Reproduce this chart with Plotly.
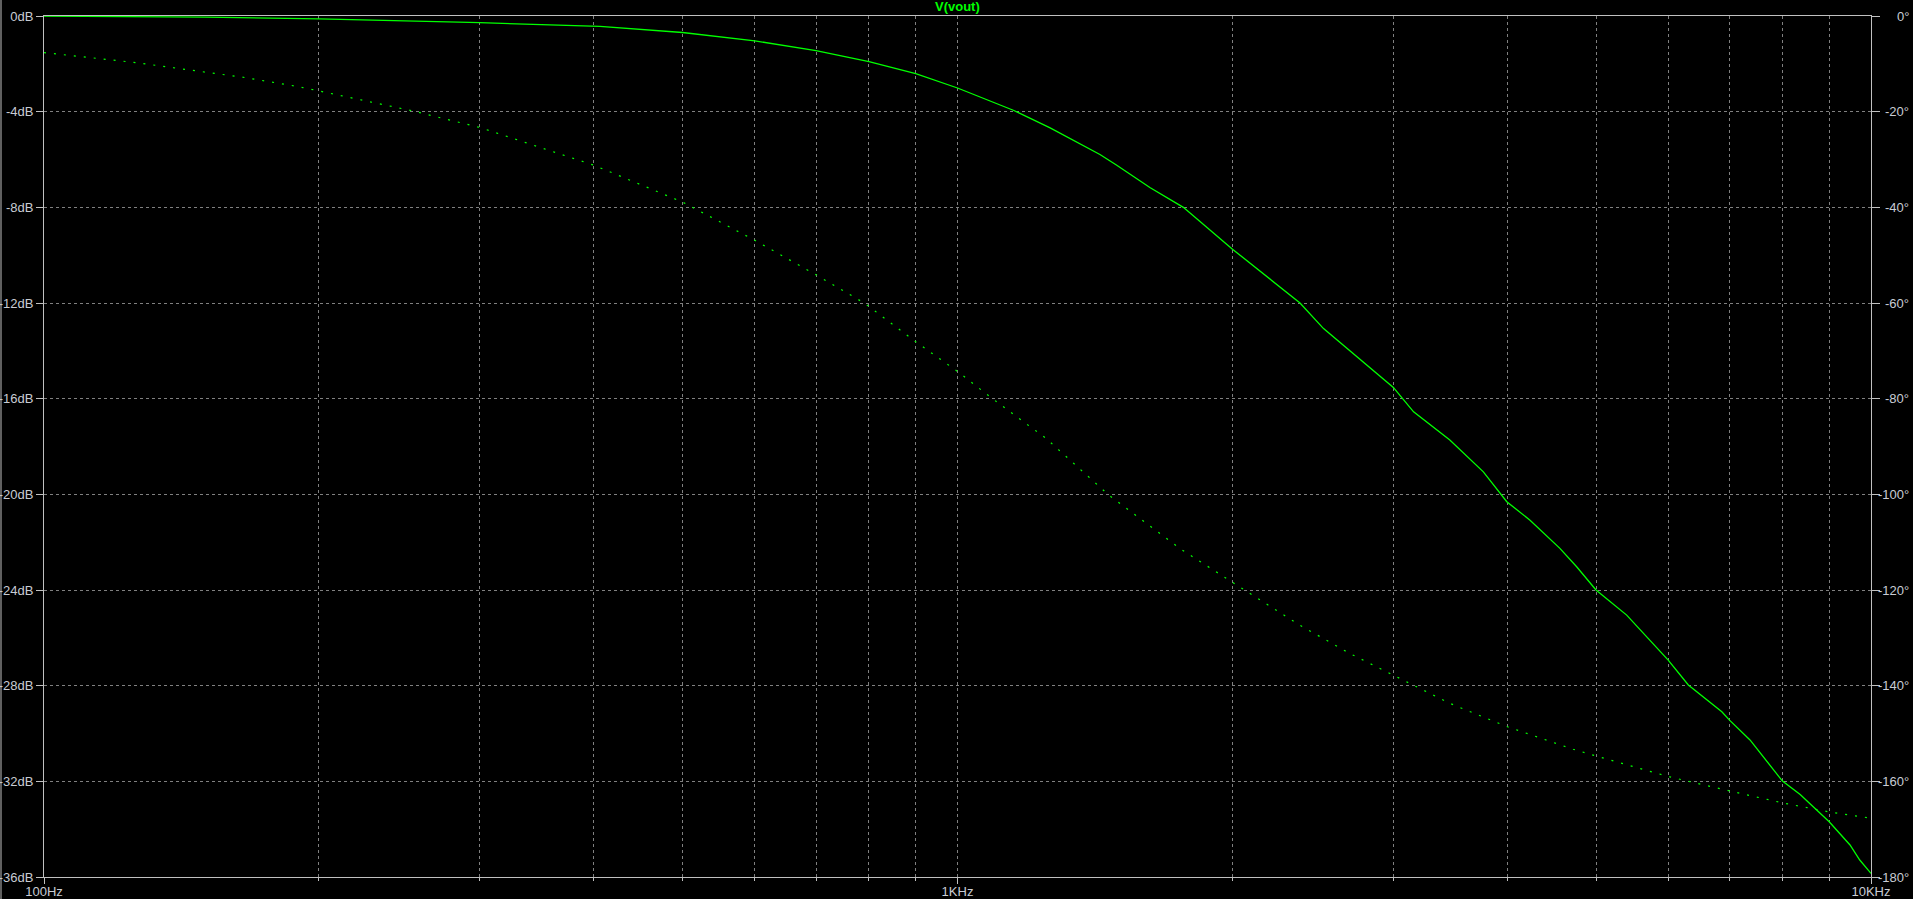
import plotly.graph_objects as go

# Magnitude (dB)
mag_freq = [100, 150, 200, 250, 300, 406, 500, 600, 700, 800, 900, 1000, 1151, 1263, 1317,
            1432, 1494, 1624, 1767, 2000, 2371, 2516, 3000, 3157, 3459, 3764, 3993, 4234,
            4565, 4762, 5000, 5402, 5998, 6310, 6866, 7000, 7371, 8000, 8365, 8685, 9000,
            9485, 9721, 10000]
mag_db = [0.0, -0.05, -0.12, -0.2, -0.28, -0.43, -0.69, -1.04, -1.45, -1.91, -2.41, -3.01,
          -3.94, -4.68, -5.05, -5.79, -6.24, -7.17, -8.0, -9.75, -12.0, -13.07, -15.53,
          -16.55, -17.73, -19.06, -20.31, -21.08, -22.26, -23.03, -24.0, -25.05, -26.93,
          -27.97, -29.09, -29.44, -30.27, -31.99, -32.55, -33.13, -33.69, -34.66, -35.29,
          -35.85]

# Phase (degrees)
ph_freq = [100, 117.6, 126, 166, 189, 200, 254, 300, 400, 500, 600, 700, 792, 900, 1000,
           1092, 1250, 1463, 1751, 2000, 2367, 2690, 3000, 3459, 4000, 4721, 5000, 6000,
           7000, 8000, 9000, 10000]
ph_deg = [-7.65, -9.1, -9.74, -12.87, -14.7, -15.67, -19.9, -23.3, -31.2, -38.9, -46.9,
          -54.1, -60.1, -68.1, -74.3, -80.0, -88.3, -100.1, -111.3, -118.4, -127.3, -133.3,
          -137.8, -143.7, -148.6, -153.3, -154.7, -159.0, -162.0, -164.5, -166.4, -167.7]

x_major = [100, 1000, 10000]
x_major_text = ["100Hz", "1KHz", "10KHz"]
x_minor = [m * d for d in (100, 1000) for m in range(2, 10)]
y_left_vals = list(range(0, -37, -4))
y_left_text = [f"{v}dB" for v in y_left_vals]
y_right_vals = list(range(0, -181, -20))
y_right_text = [f"{v}°" for v in y_right_vals]

GREEN = "#00ff00"
FRAME = "#c0c0c0"
GRID = "#808080"
LABEL = "#c8ccd4"
FONT = "Arial, Liberation Sans, sans-serif"

fig = go.Figure()
fig.add_trace(go.Scatter(x=mag_freq, y=mag_db, mode="lines",
                         line=dict(color=GREEN, width=1.3), name="mag", yaxis="y"))
fig.add_trace(go.Scatter(x=ph_freq, y=ph_deg, mode="lines",
                         line=dict(color=GREEN, width=1.2, dash="2px,8px"), name="phase",
                         yaxis="y2"))

fig.update_layout(
    width=1913, height=899,
    margin=dict(l=44, r=42, t=16, b=22, autoexpand=False),
    paper_bgcolor="black", plot_bgcolor="black",
    showlegend=False,
    font=dict(family=FONT, size=13, color=LABEL),
    xaxis=dict(type="log", range=[2, 4], tickmode="array", tickvals=x_major,
               ticktext=x_major_text, ticks="outside", ticklen=6, tickcolor=FRAME,
               showgrid=True, gridcolor=GRID, griddash="3px,3px", gridwidth=1,
               showline=True, linecolor=FRAME, linewidth=1, mirror=True, zeroline=False,
               automargin=False, ticklabelstandoff=-4,
               tickfont=dict(family=FONT, size=13, color=LABEL),
               minor=dict(tickmode="array", tickvals=x_minor, ticks="outside", ticklen=3,
                          tickcolor=FRAME, showgrid=True, gridcolor=GRID,
                          griddash="3px,3px", gridwidth=1)),
    yaxis=dict(range=[-36, 0], tickmode="array", tickvals=y_left_vals, ticktext=y_left_text,
               ticks="outside", ticklen=7, tickcolor=FRAME, showgrid=True, gridcolor=GRID,
               griddash="3px,3px", gridwidth=1, showline=True, linecolor=FRAME,
               linewidth=1, mirror=True, zeroline=False, ticklabelstandoff=0,
               automargin=False,
               tickfont=dict(family=FONT, size=13, color=LABEL)),
    yaxis2=dict(range=[-180, 0], overlaying="y", side="right", tickmode="array",
                tickvals=y_right_vals, ticks="outside", ticklen=8, tickcolor=FRAME,
                showticklabels=False, showgrid=False, zeroline=False, showline=False,
                automargin=False),
)

annotations = [dict(text="<b>V(vout)</b>", x=0.5, y=1, xref="paper", yref="paper",
                    xanchor="center", yanchor="bottom", yshift=0, showarrow=False,
                    font=dict(family=FONT, size=13, color=GREEN))]
for v, t in zip(y_right_vals, y_right_text):
    annotations.append(dict(text=t, x=1, y=v, xref="paper", yref="y2", xanchor="right",
                            yanchor="middle", xshift=40, showarrow=False,
                            font=dict(family=FONT, size=13, color=LABEL)))
fig.update_layout(annotations=annotations)

fig.add_shape(type="line", xref="paper", yref="paper", x0=-43 / 1827, x1=-43 / 1827,
              y0=-22 / 861, y1=1 + 16 / 861, line=dict(color=FRAME, width=1))

fig.write_html("out.html", config={"displayModeBar": False},
               post_script="document.body.style.margin='0';"
                           "document.body.style.overflow='hidden';")
